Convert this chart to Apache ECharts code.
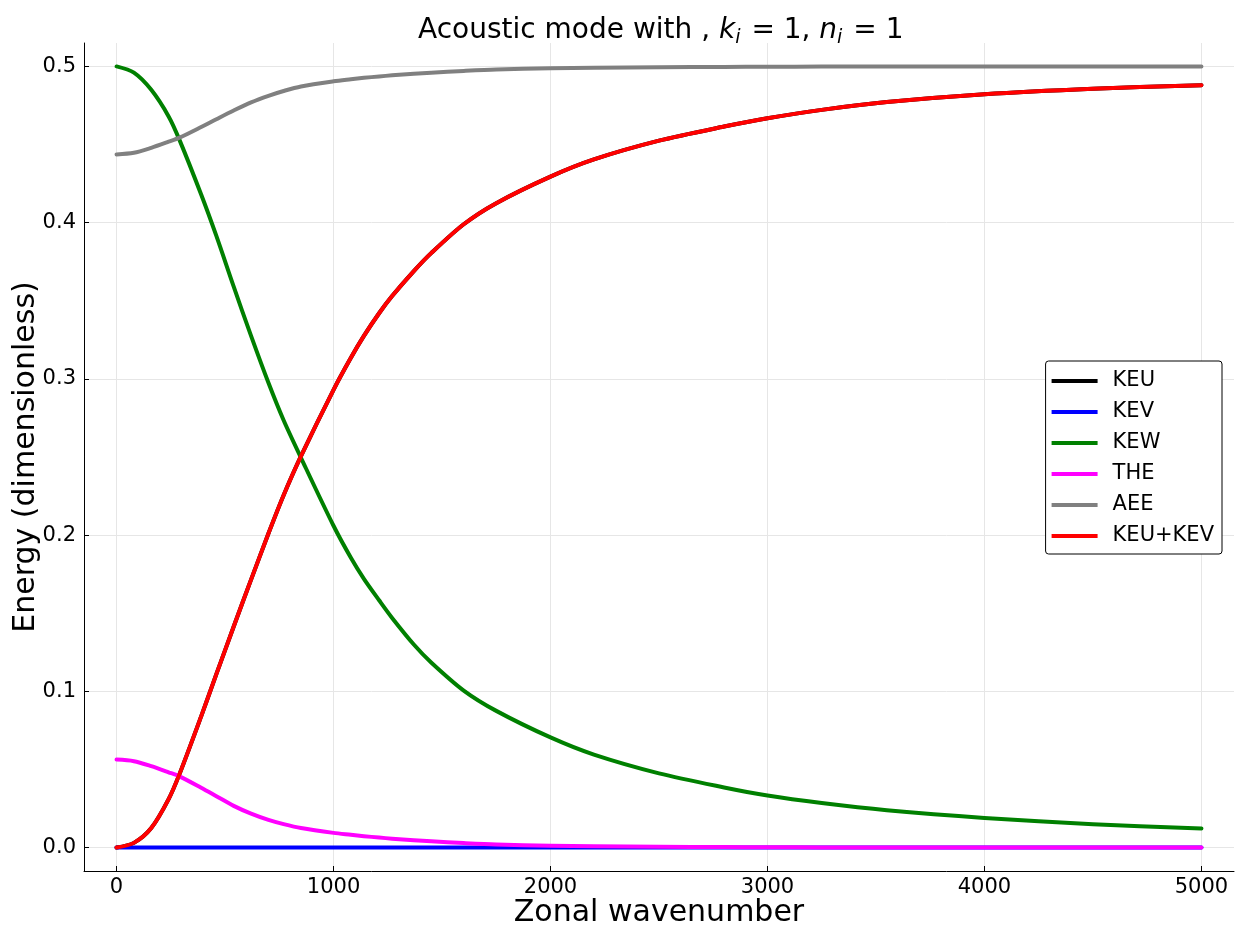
<!DOCTYPE html>
<html>
<head>
<meta charset="utf-8">
<script src="https://cdn.jsdelivr.net/npm/echarts@6/dist/echarts.min.js"></script>
<style>
html,body{margin:0;padding:0;background:#fff;}
#chart{width:1246px;height:932px;}
</style>
</head>
<body>
<div id="chart"></div>
<script>
// Zonal wavenumber samples
const wavenumber = [0, 80, 160, 240, 290, 390, 460, 540, 620, 700, 770, 850, 1000, 1080, 1140, 1210, 1270, 1370, 1450, 1600, 1750, 2000, 2200, 2500, 2800, 3000, 3250, 3550, 4000, 4500, 5000];
// KEU (identical to KEU+KEV since KEV is zero)
const keu = [0, 0.003, 0.0125, 0.031, 0.047, 0.084, 0.111, 0.1415, 0.1715, 0.201, 0.2255, 0.2505, 0.293, 0.3135, 0.3275, 0.342, 0.353, 0.369, 0.3805, 0.399, 0.4125, 0.4295, 0.4405, 0.4525, 0.4615, 0.4668, 0.4722, 0.4772, 0.4822, 0.4857, 0.488];
const kev = [0, 0, 0, 0, 0, 0, 0, 0, 0, 0, 0, 0, 0, 0, 0, 0, 0, 0, 0, 0, 0, 0, 0, 0, 0, 0, 0, 0, 0, 0, 0];
const kew = [0.500, 0.496, 0.485, 0.468, 0.453, 0.418, 0.3915, 0.359, 0.3275, 0.2975, 0.2735, 0.2495, 0.206, 0.1855, 0.172, 0.1583, 0.147, 0.1300, 0.1185, 0.1005, 0.0875, 0.0705, 0.0595, 0.0475, 0.0385, 0.0333, 0.0285, 0.0239, 0.0190, 0.0150, 0.0122];
const the = [0.0563, 0.0553, 0.0521, 0.0482, 0.0456, 0.0383, 0.0329, 0.0267, 0.0217, 0.0177, 0.0150, 0.0125, 0.0094, 0.0082, 0.0073, 0.0064, 0.0057, 0.0047, 0.0040, 0.0029, 0.0020, 0.0012, 0.0008, 0.0005, 0.0003, 0.0002, 0.0001, 0.0001, 0.00005, 0, 0];
const aee = [0.4437, 0.4447, 0.4479, 0.4518, 0.4544, 0.4612, 0.4662, 0.4718, 0.4770, 0.4812, 0.4843, 0.4872, 0.4905, 0.4918, 0.4927, 0.4936, 0.4943, 0.4953, 0.4960, 0.4971, 0.4980, 0.4988, 0.4992, 0.4995, 0.4997, 0.4998, 0.4999, 0.5, 0.5, 0.5, 0.5];
const keuPlusKev = keu.map((v, i) => v + kev[i]);

const xTicks = [0, 1000, 2000, 3000, 4000, 5000];
const yTicks = [0, 0.1, 0.2, 0.3, 0.4, 0.5];
const seriesNames = ['KEU', 'KEV', 'KEW', 'THE', 'AEE', 'KEU+KEV'];
const seriesColors = ['#000000', '#0000ff', '#008000', '#ff00ff', '#808080', '#ff0000'];
const seriesData = [keu, kev, kew, the, aee, keuPlusKev];

const FONT = 'DejaVu Sans';
const chart = echarts.init(document.getElementById('chart'), null, {renderer: 'canvas'});

const series = seriesNames.map((name, s) => ({
  name: name,
  type: 'line',
  data: wavenumber.map((x, i) => [x, seriesData[s][i]]),
  showSymbol: false,
  symbol: 'none',
  smooth: 0.3,
  color: seriesColors[s],
  lineStyle: {width: 4, color: seriesColors[s], cap: 'round', join: 'round'},
  emphasis: {disabled: true},
  animation: false,
  z: 2 + s
}));

const option = {
  backgroundColor: '#ffffff',
  animation: false,
  title: {
    text: '{n|Acoustic mode with , }{i|k}{s|i}{n| = 1, }{i|n}{s|i}{n| = 1}',
    left: 413,
    top: 7,
    textStyle: {
      fontWeight: 'normal',
      rich: {
        n: {fontFamily: FONT, fontSize: 28, fontWeight: 'normal', color: '#000', lineHeight: 38},
        i: {fontFamily: FONT, fontSize: 28, fontWeight: 'normal', fontStyle: 'italic', color: '#000', lineHeight: 38},
        s: {fontFamily: FONT, fontSize: 19, fontWeight: 'normal', fontStyle: 'italic', color: '#000', lineHeight: 38, padding: [15, 2, 0, 0]}
      }
    }
  },
  grid: {left: 84, right: 12, top: 43, bottom: 61, containLabel: false, outerBoundsMode: 'none'},
  legend: {
    orient: 'vertical',
    right: 24,
    top: 361,
    data: seriesNames,
    icon: 'rect',
    itemWidth: 46,
    itemHeight: 4,
    itemGap: 9,
    padding: [9, 8, 7, 6],
    backgroundColor: '#ffffff',
    borderColor: '#000000',
    borderWidth: 1,
    borderRadius: 3,
    selectedMode: false,
    textStyle: {fontFamily: FONT, fontSize: 21, color: '#000', lineHeight: 22, padding: [0, 0, 0, 10]}
  },
  xAxis: {
    type: 'value',
    min: -150,
    max: 5150,
    name: 'Zonal wavenumber',
    nameLocation: 'middle',
    nameGap: 27,
    nameMoveOverlap: false,
    nameTextStyle: {fontFamily: FONT, fontSize: 30, color: '#000'},
    axisLine: {show: true, onZero: false, lineStyle: {color: '#000', width: 1}},
    axisTick: {show: true, inside: true, length: 5, customValues: xTicks, lineStyle: {color: '#000'}},
    axisLabel: {customValues: xTicks, fontFamily: FONT, fontSize: 21, color: '#000', margin: 6, formatter: v => String(v)},
    splitLine: {show: true, lineStyle: {color: '#e6e6e6', width: 1}}
  },
  yAxis: {
    type: 'value',
    min: -0.015,
    max: 0.515,
    name: 'Energy (dimensionless)',
    nameLocation: 'middle',
    nameGap: 43,
    nameMoveOverlap: false,
    nameTextStyle: {fontFamily: FONT, fontSize: 30, color: '#000'},
    axisLine: {show: true, onZero: false, lineStyle: {color: '#000', width: 1}},
    axisTick: {show: true, inside: true, length: 5, customValues: yTicks, lineStyle: {color: '#000'}},
    axisLabel: {customValues: yTicks, fontFamily: FONT, fontSize: 21, color: '#000', margin: 8, formatter: v => v.toFixed(1)},
    splitLine: {show: true, lineStyle: {color: '#e6e6e6', width: 1}}
  },
  series: series
};
chart.setOption(option);
</script>
</body>
</html>
